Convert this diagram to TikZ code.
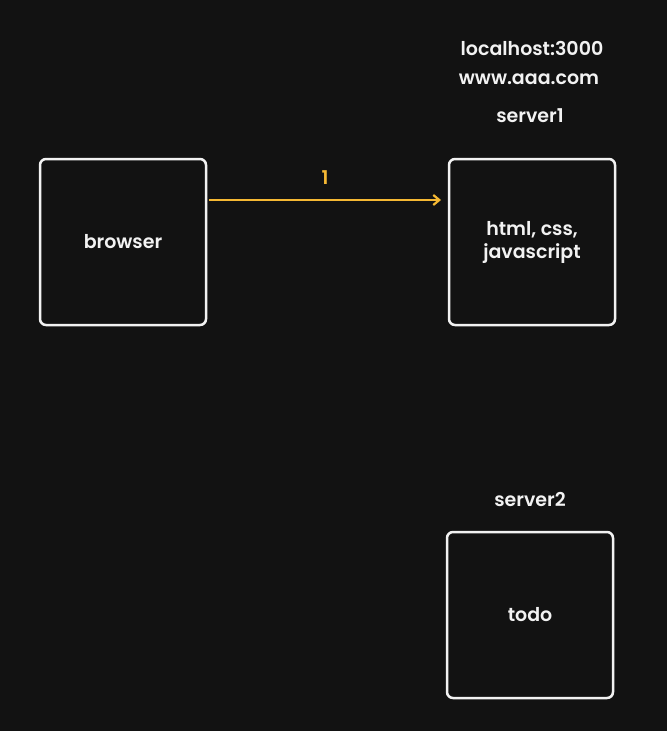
\documentclass[tikz,border=0pt]{standalone}
\usepackage{fontspec}
\usetikzlibrary{arrows.meta}
\setmainfont{Poppins}[UprightFont=*-SemiBold,BoldFont=*-Bold]
\definecolor{bg}{HTML}{121212}
\definecolor{fg}{HTML}{F2F2F2}
\definecolor{arr}{HTML}{F5B833}
\tikzset{
  box/.style={draw=fg, line width=2.5pt, rounded corners=6pt, minimum width=166pt, minimum height=166pt, inner sep=0pt},
  lbl/.style={text=fg, font=\fontsize{19}{23}\selectfont, align=center, inner sep=0pt},
}
\begin{document}
\begin{tikzpicture}[x=1pt,y=-1pt]
\fill[bg] (0,0) rectangle (667,731);
\useasboundingbox (0,0) rectangle (667,731);
\node[box] (browser) at (123,242) {};
\node[box] (server1) at (532,242) {};
\node[box] (server2) at (530,615) {};
\node[lbl] at (browser.center) {browser};
\node[lbl] at (server1.center) {html, css,\\javascript};
\node[lbl] at (server2.center) {todo};
\node[lbl] (s1) at (530,116) {server1};
\node[lbl] (www) at (529,79) {www.aaa.com};
\node[lbl] (lh) at (532,48) {localhost:3000};
\node[lbl] (s2) at (530,500) {server2};
\coordinate (a1) at (209,200);
\coordinate (a2) at (441,200);
\draw[arr, line width=2.2pt, -{Straight Barb[length=6pt,width=10pt]}] (a1) -- node[above=14pt, text=arr, font=\fontsize{19}{23}\selectfont, inner sep=0pt] (one) {1} (a2);
\end{tikzpicture}
\end{document}
